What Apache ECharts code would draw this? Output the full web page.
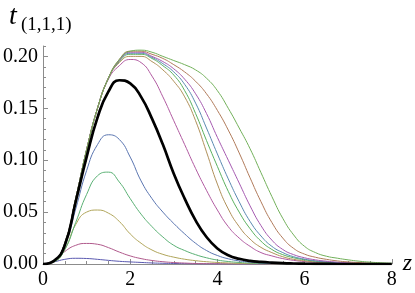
<!DOCTYPE html>
<html>
<head>
<meta charset="utf-8">
<script src="https://cdn.jsdelivr.net/npm/echarts@6/dist/echarts.min.js"></script>
<style>html,body{margin:0;padding:0;background:#fff;}#c{width:415px;height:293px;}</style>
</head>
<body>
<div id="c"></div>
<script>
// z grid
const zValues = [0,0.25,0.5,0.75,1,1.25,1.5,1.75,2,2.25,2.5,2.75,3,3.25,3.5,3.75,4,4.25,4.5,4.75,5,5.25,5.5,5.75,6,6.25,6.5,6.75,7,7.25,7.5,7.75,8];
// thin curves (small ones)
const c1 = [0,0.002,0.0045,0.0055,0.0053,0.0045,0.0035,0.0026,0.002,0.0015,0.001,0.0007,0.0005,0.0003,0.0002,0.0001,0.0001,0,0,0,0,0,0,0,0,0,0,0,0,0,0,0,0];
const c2 = [0,0.003,0.012,0.018,0.0198,0.019,0.0158,0.0115,0.0078,0.0052,0.0034,0.0022,0.0014,0.0009,0.0005,0.0003,0.0002,0.0001,0,0,0,0,0,0,0,0,0,0,0,0,0,0,0];
const c3 = [0,0.002,0.014,0.038,0.05,0.052,0.049,0.041,0.029,0.02,0.0135,0.0093,0.0066,0.0046,0.0032,0.0022,0.0015,0.001,0.0006,0.0004,0.0002,0.0001,0,0,0,0,0,0,0,0,0,0,0];
const c4 = [0,0.002,0.014,0.04,0.067,0.085,0.0885,0.079,0.063,0.048,0.036,0.026,0.018,0.013,0.009,0.006,0.0038,0.0024,0.0015,0.0009,0.0005,0.0003,0.0002,0.0001,0,0,0,0,0,0,0,0,0];
const c5 = [0,0.003,0.018,0.053,0.09,0.115,0.1245,0.12,0.103,0.08,0.063,0.05,0.039,0.029,0.02,0.013,0.0082,0.005,0.003,0.0018,0.001,0.0006,0.0003,0.0002,0.0001,0,0,0,0,0,0,0,0];
// thin curves (upper family)
const c6 = [0,0.003,0.02,0.063,0.11,0.15,0.178,0.191,0.197,0.194,0.181,0.161,0.138,0.115,0.092,0.071,0.052,0.036,0.025,0.017,0.011,0.0078,0.0052,0.0035,0.0023,0.0016,0.001,0.0007,0.0004,0.0003,0.0002,0.0001,0.0001];
const c7 = [0,0.003,0.02,0.063,0.11,0.15,0.179,0.194,0.2,0.2,0.195,0.187,0.176,0.161,0.138,0.108,0.077,0.053,0.036,0.024,0.016,0.011,0.007,0.0045,0.003,0.002,0.0013,0.0009,0.0005,0.0003,0.0002,0.0001,0.0001];
const c8 = [0,0.003,0.02,0.063,0.11,0.15,0.179,0.195,0.202,0.202,0.198,0.191,0.182,0.167,0.145,0.119,0.094,0.07,0.05,0.034,0.022,0.014,0.009,0.006,0.004,0.0027,0.0017,0.0011,0.0007,0.0005,0.0003,0.0002,0.0001];
const c9 = [0,0.003,0.02,0.063,0.11,0.15,0.179,0.196,0.203,0.203,0.199,0.193,0.185,0.173,0.155,0.131,0.106,0.082,0.06,0.041,0.027,0.017,0.011,0.007,0.0047,0.003,0.002,0.0013,0.0009,0.0006,0.0004,0.0002,0.0002];
const c10 = [0,0.003,0.02,0.063,0.11,0.15,0.179,0.196,0.204,0.204,0.2,0.195,0.188,0.178,0.164,0.145,0.122,0.1,0.078,0.056,0.037,0.023,0.014,0.009,0.006,0.004,0.0027,0.0018,0.0012,0.0008,0.0005,0.0003,0.0002];
const c11 = [0,0.003,0.02,0.063,0.11,0.15,0.179,0.197,0.205,0.205,0.202,0.198,0.192,0.185,0.176,0.164,0.148,0.129,0.107,0.083,0.06,0.04,0.025,0.015,0.0095,0.0065,0.0045,0.003,0.002,0.0014,0.0009,0.0006,0.0004];
const c12 = [0,0.003,0.02,0.063,0.11,0.15,0.179,0.197,0.205,0.206,0.204,0.2,0.196,0.192,0.187,0.179,0.167,0.15,0.131,0.111,0.088,0.065,0.044,0.028,0.017,0.011,0.0075,0.0056,0.004,0.0027,0.0018,0.0012,0.0008];
// thick black curve
const cBlack = [0,0.003,0.018,0.06,0.103,0.141,0.166,0.177,0.174,0.161,0.14,0.115,0.087,0.063,0.042,0.026,0.015,0.0085,0.005,0.003,0.002,0.0013,0.0008,0.0005,0.0003,0.0002,0.0001,0,0,0,0,0,0];

const thinSeries = [c1,c2,c3,c4,c5,c6,c7,c8,c9,c10,c11,c12];
const thinColors = ['#5a59b0','#b05a8c','#b0a55a','#5ab074','#5a75b0','#b05aa0','#b0905a','#5ab05e','#5a8ab0','#a55ab0','#b07a5a','#72b05a'];

const yMajor = [0,0.05,0.1,0.15,0.2];

function pairs(arr){ return zValues.map((z,i)=>[z,arr[i]]); }

const series = thinSeries.map((arr,i)=>({
  type:'line', data:pairs(arr), showSymbol:false, smooth:0.5,
  lineStyle:{color:thinColors[i], width:1}, silent:true, animation:false, z:2
}));
series.push({type:'line', data:pairs(cBlack), showSymbol:false, smooth:0.5,
  lineStyle:{color:'#000', width:2.7}, silent:true, animation:false, z:3});

const axisColor = '#8c8c8c';
const labelFont = {fontFamily:'Liberation Serif', fontSize:20, color:'#000'};

const chart = echarts.init(document.getElementById('c'), null, {renderer:'canvas'});
chart.setOption({
  animation:false,
  grid:{left:40, right:21, top:46, bottom:29, containLabel:false},
  xAxis:{type:'value', min:0, max:8, interval:2,
    name:'z', nameLocation:'end', nameGap:9,
    nameTextStyle:{fontFamily:'Liberation Serif', fontStyle:'italic', fontSize:24, color:'#000', verticalAlign:'middle', padding:[0,0,8,0]},
    axisLine:{show:true, onZero:false, lineStyle:{color:axisColor, width:1}},
    axisTick:{show:true, inside:true, length:5, lineStyle:{color:axisColor}},
    minorTick:{show:true, splitNumber:4, length:3, lineStyle:{color:axisColor}},
    splitLine:{show:false}, minorSplitLine:{show:false},
    axisLabel:Object.assign({margin:6}, labelFont)
  },
  yAxis:[{type:'value', min:0, max:0.21,
    axisLine:{show:true, onZero:false, lineStyle:{color:axisColor, width:1}},
    axisTick:{show:true, inside:true, length:5, lineStyle:{color:axisColor}, customValues:yMajor},
    splitLine:{show:false},
    axisLabel:Object.assign({margin:5, customValues:yMajor, formatter:(v)=>v.toFixed(2)}, labelFont)
  },{type:'value', min:0, max:0.21, interval:0.01, position:'left', offset:0,
    axisLine:{show:false, onZero:false},
    axisTick:{show:true, inside:true, length:3, lineStyle:{color:axisColor}},
    axisLabel:{show:false},
    splitLine:{show:false}
  }],
  graphic:[
    {type:'text', left:9, top:3, style:{text:'t', font:'italic 28px "Liberation Serif"', fill:'#000'}},
    {type:'text', left:21, top:16, style:{text:'(1,1,1)', font:'19px "Liberation Serif"', fill:'#000'}}
  ],
  series:series
});
</script>
</body>
</html>
